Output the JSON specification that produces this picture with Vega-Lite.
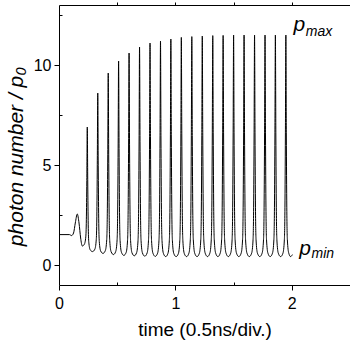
{
  "$schema": "https://vega.github.io/schema/vega-lite/v6.json",
  "width": 291,
  "height": 280,
  "autosize": "none",
  "padding": {"left": 59, "top": 5, "right": 0, "bottom": 56},
  "background": "white",
  "config": {
    "view": {"stroke": null},
    "font": "Liberation Sans",
    "axis": {"grid": false, "domainColor": "black", "tickColor": "black", "labelColor": "black", "titleColor": "black", "labelFont": "Liberation Sans", "titleFont": "Liberation Sans", "titleFontWeight": "normal"}
  },
  "data": {
    "values": [
      {"t": 0.0, "p": 1.52}, {"t": 0.09, "p": 1.52}, {"t": 0.108, "p": 1.47}, {"t": 0.125, "p": 1.6}, {"t": 0.14, "p": 2.1}, {"t": 0.157, "p": 2.55}, {"t": 0.172, "p": 2.1}, {"t": 0.186, "p": 1.35}, {"t": 0.2, "p": 0.95},
      {"t": 0.218, "p": 1.04}, {"t": 0.23, "p": 1.4}, {"t": 0.235, "p": 2.26}, {"t": 0.239, "p": 4.22}, {"t": 0.243, "p": 6.9}, {"t": 0.247, "p": 4.1}, {"t": 0.251, "p": 2.04}, {"t": 0.256, "p": 1.14}, {"t": 0.268, "p": 0.76}, {"t": 0.288, "p": 0.67},
      {"t": 0.308, "p": 0.79}, {"t": 0.32, "p": 1.26}, {"t": 0.325, "p": 2.41}, {"t": 0.329, "p": 5.03}, {"t": 0.333, "p": 8.6}, {"t": 0.337, "p": 4.99}, {"t": 0.341, "p": 2.34}, {"t": 0.346, "p": 1.18}, {"t": 0.358, "p": 0.7}, {"t": 0.378, "p": 0.58},
      {"t": 0.398, "p": 0.72}, {"t": 0.41, "p": 1.26}, {"t": 0.415, "p": 2.56}, {"t": 0.419, "p": 5.54}, {"t": 0.423, "p": 9.6}, {"t": 0.427, "p": 5.51}, {"t": 0.431, "p": 2.52}, {"t": 0.436, "p": 1.2}, {"t": 0.448, "p": 0.66}, {"t": 0.468, "p": 0.52},
      {"t": 0.487, "p": 0.67}, {"t": 0.499, "p": 1.25}, {"t": 0.504, "p": 2.65}, {"t": 0.508, "p": 5.84}, {"t": 0.512, "p": 10.2}, {"t": 0.516, "p": 5.83}, {"t": 0.52, "p": 2.62}, {"t": 0.525, "p": 1.21}, {"t": 0.537, "p": 0.63}, {"t": 0.557, "p": 0.48},
      {"t": 0.577, "p": 0.63}, {"t": 0.589, "p": 1.24}, {"t": 0.594, "p": 2.71}, {"t": 0.598, "p": 6.05}, {"t": 0.602, "p": 10.6}, {"t": 0.606, "p": 6.04}, {"t": 0.61, "p": 2.69}, {"t": 0.615, "p": 1.22}, {"t": 0.627, "p": 0.61}, {"t": 0.647, "p": 0.46},
      {"t": 0.667, "p": 0.62}, {"t": 0.679, "p": 1.24}, {"t": 0.684, "p": 2.76}, {"t": 0.688, "p": 6.2}, {"t": 0.692, "p": 10.9}, {"t": 0.696, "p": 6.19}, {"t": 0.7, "p": 2.74}, {"t": 0.705, "p": 1.22}, {"t": 0.717, "p": 0.6}, {"t": 0.737, "p": 0.44},
      {"t": 0.757, "p": 0.6}, {"t": 0.769, "p": 1.24}, {"t": 0.774, "p": 2.79}, {"t": 0.778, "p": 6.3}, {"t": 0.782, "p": 11.1}, {"t": 0.786, "p": 6.3}, {"t": 0.79, "p": 2.78}, {"t": 0.795, "p": 1.23}, {"t": 0.807, "p": 0.59}, {"t": 0.827, "p": 0.43},
      {"t": 0.847, "p": 0.59}, {"t": 0.859, "p": 1.24}, {"t": 0.864, "p": 2.8}, {"t": 0.868, "p": 6.35}, {"t": 0.872, "p": 11.2}, {"t": 0.876, "p": 6.35}, {"t": 0.88, "p": 2.79}, {"t": 0.885, "p": 1.23}, {"t": 0.897, "p": 0.58}, {"t": 0.917, "p": 0.42},
      {"t": 0.936, "p": 0.58}, {"t": 0.948, "p": 1.24}, {"t": 0.953, "p": 2.81}, {"t": 0.957, "p": 6.4}, {"t": 0.961, "p": 11.3}, {"t": 0.965, "p": 6.4}, {"t": 0.969, "p": 2.81}, {"t": 0.974, "p": 1.24}, {"t": 0.986, "p": 0.58}, {"t": 1.006, "p": 0.42},
      {"t": 1.026, "p": 0.58}, {"t": 1.038, "p": 1.24}, {"t": 1.043, "p": 2.83}, {"t": 1.047, "p": 6.45}, {"t": 1.051, "p": 11.38}, {"t": 1.055, "p": 6.45}, {"t": 1.059, "p": 2.83}, {"t": 1.064, "p": 1.24}, {"t": 1.076, "p": 0.58}, {"t": 1.096, "p": 0.42},
      {"t": 1.116, "p": 0.59}, {"t": 1.128, "p": 1.25}, {"t": 1.133, "p": 2.84}, {"t": 1.137, "p": 6.47}, {"t": 1.141, "p": 11.42}, {"t": 1.145, "p": 6.47}, {"t": 1.149, "p": 2.84}, {"t": 1.154, "p": 1.25}, {"t": 1.166, "p": 0.59}, {"t": 1.186, "p": 0.42},
      {"t": 1.206, "p": 0.59}, {"t": 1.218, "p": 1.25}, {"t": 1.223, "p": 2.85}, {"t": 1.227, "p": 6.49}, {"t": 1.231, "p": 11.45}, {"t": 1.235, "p": 6.49}, {"t": 1.239, "p": 2.85}, {"t": 1.244, "p": 1.25}, {"t": 1.256, "p": 0.59}, {"t": 1.276, "p": 0.42},
      {"t": 1.296, "p": 0.59}, {"t": 1.308, "p": 1.25}, {"t": 1.313, "p": 2.86}, {"t": 1.317, "p": 6.5}, {"t": 1.321, "p": 11.47}, {"t": 1.325, "p": 6.5}, {"t": 1.329, "p": 2.86}, {"t": 1.334, "p": 1.25}, {"t": 1.346, "p": 0.59}, {"t": 1.365, "p": 0.42},
      {"t": 1.385, "p": 0.59}, {"t": 1.397, "p": 1.25}, {"t": 1.402, "p": 2.86}, {"t": 1.406, "p": 6.5}, {"t": 1.41, "p": 11.48}, {"t": 1.414, "p": 6.5}, {"t": 1.418, "p": 2.86}, {"t": 1.423, "p": 1.25}, {"t": 1.435, "p": 0.59}, {"t": 1.455, "p": 0.42},
      {"t": 1.475, "p": 0.59}, {"t": 1.487, "p": 1.25}, {"t": 1.492, "p": 2.86}, {"t": 1.496, "p": 6.5}, {"t": 1.5, "p": 11.5}, {"t": 1.504, "p": 6.5}, {"t": 1.508, "p": 2.86}, {"t": 1.513, "p": 1.25}, {"t": 1.525, "p": 0.59}, {"t": 1.545, "p": 0.42},
      {"t": 1.565, "p": 0.59}, {"t": 1.577, "p": 1.25}, {"t": 1.582, "p": 2.86}, {"t": 1.586, "p": 6.5}, {"t": 1.59, "p": 11.5}, {"t": 1.594, "p": 6.5}, {"t": 1.598, "p": 2.86}, {"t": 1.603, "p": 1.25}, {"t": 1.615, "p": 0.59}, {"t": 1.635, "p": 0.42},
      {"t": 1.655, "p": 0.59}, {"t": 1.667, "p": 1.25}, {"t": 1.672, "p": 2.86}, {"t": 1.676, "p": 6.5}, {"t": 1.68, "p": 11.5}, {"t": 1.684, "p": 6.5}, {"t": 1.688, "p": 2.86}, {"t": 1.693, "p": 1.25}, {"t": 1.705, "p": 0.59}, {"t": 1.725, "p": 0.42},
      {"t": 1.745, "p": 0.59}, {"t": 1.757, "p": 1.25}, {"t": 1.762, "p": 2.86}, {"t": 1.766, "p": 6.5}, {"t": 1.77, "p": 11.5}, {"t": 1.774, "p": 6.5}, {"t": 1.778, "p": 2.86}, {"t": 1.783, "p": 1.25}, {"t": 1.795, "p": 0.59}, {"t": 1.814, "p": 0.42},
      {"t": 1.834, "p": 0.59}, {"t": 1.846, "p": 1.25}, {"t": 1.851, "p": 2.86}, {"t": 1.855, "p": 6.5}, {"t": 1.859, "p": 11.5}, {"t": 1.863, "p": 6.5}, {"t": 1.867, "p": 2.86}, {"t": 1.872, "p": 1.25}, {"t": 1.884, "p": 0.59}, {"t": 1.904, "p": 0.42},
      {"t": 1.924, "p": 0.59}, {"t": 1.936, "p": 1.25}, {"t": 1.941, "p": 2.86}, {"t": 1.945, "p": 6.5}, {"t": 1.949, "p": 11.5}, {"t": 1.953, "p": 6.5}, {"t": 1.957, "p": 2.86}, {"t": 1.962, "p": 1.25}, {"t": 1.974, "p": 0.59}, {"t": 1.99, "p": 0.42},
      {"t": 2.005, "p": 0.52}
    ]
  },
  "resolve": {"axis": {"x": "independent", "y": "independent"}},
  "layer": [
    {
      "mark": {"type": "line", "color": "black", "strokeWidth": 1, "interpolate": "monotone"},
      "encoding": {
        "x": {"field": "t", "type": "quantitative", "scale": {"domain": [0, 2.5], "nice": false, "zero": false},
          "axis": {"orient": "bottom", "values": [0, 1, 2], "tickSize": 5, "labelFontSize": 16, "labelPadding": 5, "labelFlush": false, "title": "time (0.5ns/div.)", "titleFontSize": 19, "titlePadding": 9}},
        "y": {"field": "p", "type": "quantitative", "scale": {"domain": [-1, 13], "nice": false, "zero": false},
          "axis": {"orient": "left", "values": [0, 5, 10], "tickSize": 5, "labelFontSize": 16, "labelPadding": 3, "labelFlush": false, "title": "photon number / p₀", "titleFontSize": 21, "titleFontStyle": "italic", "titleX": -37, "titleY": 151, "titleAlign": "center", "titleBaseline": "alphabetic", "titleAngle": -90}}
      }
    },
    {
      "mark": {"type": "line", "strokeOpacity": 0},
      "encoding": {
        "x": {"field": "t", "type": "quantitative", "scale": {"domain": [0, 2.5], "nice": false, "zero": false},
          "axis": {"orient": "bottom", "values": [0.5, 1.5], "tickSize": -3, "labels": false, "domain": false, "title": null}},
        "y": {"field": "p", "type": "quantitative", "scale": {"domain": [-1, 13], "nice": false, "zero": false},
          "axis": {"orient": "left", "values": [2.5, 7.5, 12.5], "tickSize": -3, "labels": false, "domain": false, "title": null}}
      }
    },
    {
      "mark": {"type": "line", "strokeOpacity": 0},
      "encoding": {
        "x": {"field": "t", "type": "quantitative", "scale": {"domain": [0, 2.5], "nice": false, "zero": false},
          "axis": {"orient": "top", "values": [0.5, 1, 1.5, 2], "tickSize": 3, "labels": false, "title": null}},
        "y": {"field": "p", "type": "quantitative", "scale": {"domain": [-1, 13], "nice": false, "zero": false}, "axis": null}
      }
    },
    {
      "data": {"values": [{}]},
      "mark": {"type": "text", "text": "p", "font": "Liberation Sans", "fontStyle": "italic", "fontWeight": "normal", "fontSize": 21, "align": "left", "baseline": "alphabetic", "fill": "black"},
      "encoding": {
        "x": {"datum": 2.015, "type": "quantitative", "scale": {"domain": [0, 2.5], "nice": false, "zero": false}, "axis": null},
        "y": {"datum": 11.7, "type": "quantitative", "scale": {"domain": [-1, 13], "nice": false, "zero": false}, "axis": null}
      }
    },
    {
      "data": {"values": [{}]},
      "mark": {"type": "text", "text": "max", "font": "Liberation Sans", "fontStyle": "italic", "fontWeight": "normal", "fontSize": 14, "align": "left", "baseline": "alphabetic", "fill": "black"},
      "encoding": {
        "x": {"datum": 2.12, "type": "quantitative", "scale": {"domain": [0, 2.5], "nice": false, "zero": false}, "axis": null},
        "y": {"datum": 11.45, "type": "quantitative", "scale": {"domain": [-1, 13], "nice": false, "zero": false}, "axis": null}
      }
    },
    {
      "data": {"values": [{}]},
      "mark": {"type": "text", "text": "p", "font": "Liberation Sans", "fontStyle": "italic", "fontWeight": "normal", "fontSize": 21, "align": "left", "baseline": "alphabetic", "fill": "black"},
      "encoding": {
        "x": {"datum": 2.065, "type": "quantitative", "scale": {"domain": [0, 2.5], "nice": false, "zero": false}, "axis": null},
        "y": {"datum": 0.5, "type": "quantitative", "scale": {"domain": [-1, 13], "nice": false, "zero": false}, "axis": null}
      }
    },
    {
      "data": {"values": [{}]},
      "mark": {"type": "text", "text": "min", "font": "Liberation Sans", "fontStyle": "italic", "fontWeight": "normal", "fontSize": 14, "align": "left", "baseline": "alphabetic", "fill": "black"},
      "encoding": {
        "x": {"datum": 2.17, "type": "quantitative", "scale": {"domain": [0, 2.5], "nice": false, "zero": false}, "axis": null},
        "y": {"datum": 0.33, "type": "quantitative", "scale": {"domain": [-1, 13], "nice": false, "zero": false}, "axis": null}
      }
    }
  ]
}
